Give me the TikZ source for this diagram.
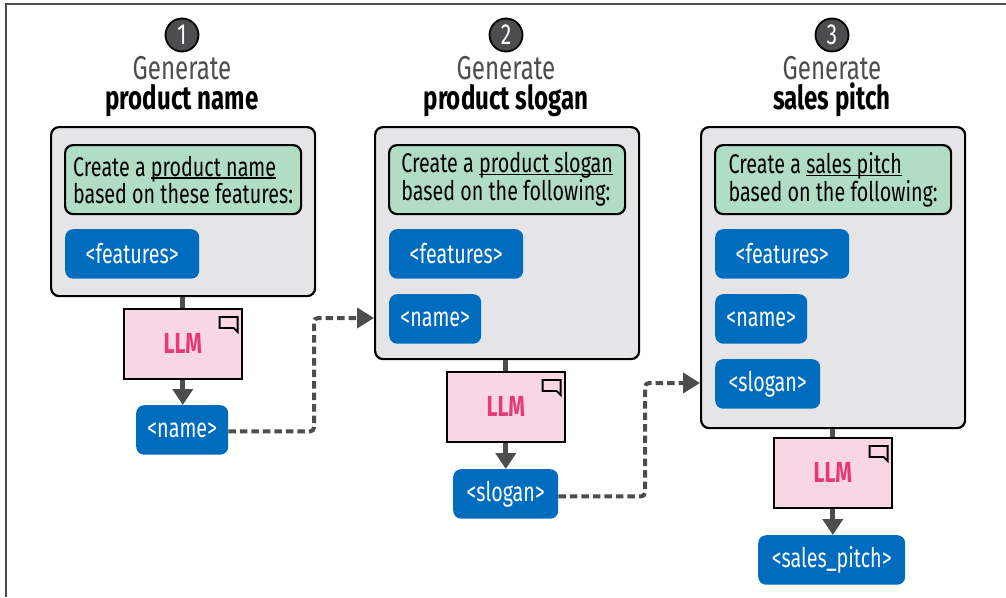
\documentclass[tikz,border=0pt]{standalone}
\usepackage{fontspec}
\setmainfont[FakeStretch=0.73]{Fira Sans}
\usetikzlibrary{arrows.meta,positioning}
\definecolor{panelgrey}{RGB}{229,229,231}
\definecolor{promptgreen}{RGB}{177,221,196}
\definecolor{tagblue}{RGB}{0,108,189}
\definecolor{llmpink}{RGB}{249,214,228}
\definecolor{llmtext}{RGB}{230,58,120}
\definecolor{linkgrey}{RGB}{77,77,79}
\tikzset{
  panel/.style    = {draw=black, line width=2.2pt, rounded corners=8pt, fill=panelgrey, anchor=north west, inner sep=0pt},
  prompt/.style   = {draw=black, line width=2.2pt, rounded corners=8pt, fill=promptgreen,
                     minimum width=236pt, minimum height=69pt, inner sep=0pt, anchor=north west,
                     align=left, font=\fontsize{27}{23}\selectfont},
  tag/.style      = {rounded corners=8pt, fill=tagblue, text=white, minimum height=49.5pt, inner sep=0pt,
                     font=\fontsize{27}{27}\selectfont, anchor=north west},
  llm/.style      = {draw=black, line width=1.6pt, fill=llmpink, minimum width=118pt, minimum height=70pt,
                     inner sep=0pt, text=llmtext, font=\fontsize{29}{29}\selectfont\bfseries, anchor=north west},
  badge/.style    = {circle, draw=black, line width=1.8pt, fill=linkgrey, text=white, minimum size=33pt,
                     inner sep=0pt, font=\fontsize{29}{29}\selectfont},
  steptitle/.style= {align=center, font=\fontsize{33}{30}\selectfont, text=black},
  solidlink/.style= {draw=linkgrey, line width=5pt},
  dotlink/.style  = {draw=linkgrey, line width=4pt, dash pattern=on 7.5pt off 4pt, rounded corners=4pt,
                     -{Triangle[length=17pt,width=20pt]}},
}
\newcommand{\gentitle}[1]{{\color{linkgrey}Generate}\\\textbf{#1}}
\newcommand{\linedtext}[1]{\leavevmode\setbox0\hbox{#1}\rlap{\rule[-2.5pt]{\wd0}{1.2pt}}\box0}
\newcommand{\chatmark}[1]{\draw[black, line width=1.8pt] (#1) ++(-23,9) -- ++(18,0) -- ++(0,15) -- ++(-4,-4) -- ++(-14,0) -- cycle;}
\begin{document}
\begin{tikzpicture}[x=1pt, y=-1pt]
  \useasboundingbox (0,0) rectangle (1006,597);
  \draw[draw=linkgrey, line width=1.5pt] (6,597) -- (6,4) -- (1006,4);

  % column 1
  \node [badge] (badgeA) at (182,35) {1};
  \node [steptitle] (titleA) at (182,87) {\gentitle{product name}};
  \node [panel, minimum width=264pt, minimum height=169pt] (panelA) at (50,126) {};
  \node [prompt] (promptA) at (64,144) {Create a \linedtext{product name}\\based on these features:};
  \node [tag, minimum width=134pt] (featA) at (65,229) {<features>};
  \node [llm] (llmA) at (123,308) {LLM};
  \node [tag, minimum width=92pt] (nameA) at (136,405) {<name>};

  % column 2
  \node [badge] (badgeB) at (506,35) {2};
  \node [steptitle] (titleB) at (506,87) {\gentitle{product slogan}};
  \node [panel, minimum width=264pt, minimum height=232pt] (panelB) at (374,126) {};
  \node [prompt] (promptB) at (388,144) {Create a \linedtext{product slogan}\\based on the following:};
  \node [tag, minimum width=134pt] (featB) at (389,229) {<features>};
  \node [tag, minimum width=92pt] (nameB) at (389,294) {<name>};
  \node [llm] (llmB) at (446,371) {LLM};
  \node [tag, minimum width=105pt] (sloganB) at (453,469) {<slogan>};

  % column 3
  \node [badge] (badgeC) at (832,35) {3};
  \node [steptitle] (titleC) at (832,87) {\gentitle{sales pitch}};
  \node [panel, minimum width=264pt, minimum height=301pt] (panelC) at (700,126) {};
  \node [prompt] (promptC) at (714,144) {Create a \linedtext{sales pitch}\\based on the following:};
  \node [tag, minimum width=134pt] (featC) at (715,229) {<features>};
  \node [tag, minimum width=92pt] (nameC) at (715,294) {<name>};
  \node [tag, minimum width=105pt] (sloganC) at (715,359) {<slogan>};
  \node [llm] (llmC) at (773,437) {LLM};
  \node [tag, minimum width=147pt] (pitchC) at (758,535) {<sales\_pitch>};

  \chatmark{llmA.north east}
  \chatmark{llmB.north east}
  \chatmark{llmC.north east}

  % links
  \foreach \from/\into/\out in {panelA/llmA/nameA, panelB/llmB/sloganB, panelC/llmC/pitchC} {
    \draw [solidlink] (\into.north |- \from.south) -- (\into.north);
    \draw [solidlink, -{Triangle[length=16pt,width=20pt]}] (\into.south) -- (\into.south |- \out.north);
  }
  \coordinate (bendA) at (314,318);
  \coordinate (bendB) at (645,383);
  \draw [dotlink] ([yshift=-1.5pt]nameA.east) -| (bendA) -- (bendA -| panelB.west);
  \draw [dotlink] ([yshift=-2.5pt]sloganB.east) -| (bendB) -- (bendB -| panelC.west);
\end{tikzpicture}
\end{document}
